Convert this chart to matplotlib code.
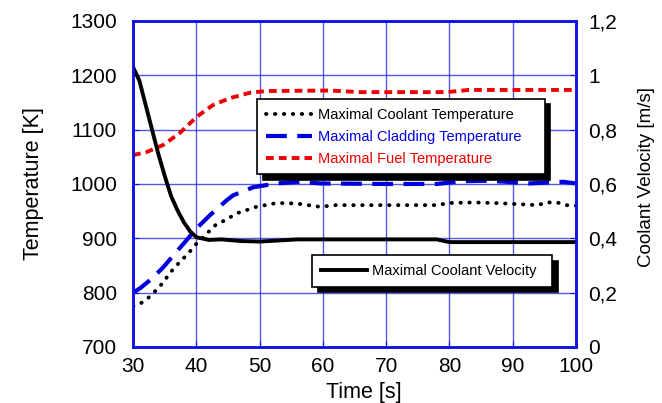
import numpy as np
import matplotlib
matplotlib.use("Agg")
import matplotlib.pyplot as plt
from matplotlib.ticker import FuncFormatter

plt.rcParams['font.family'] = ['Liberation Sans', 'DejaVu Sans']

# coolant temperature [K]
t_cool = [30, 31, 32, 33.2, 34.8, 35.8, 37.2, 38.7, 40.1, 43, 44.5, 46.4, 49.5, 52.7, 55.9, 59.5,
          62, 70, 78, 80, 84, 87, 90.6, 94, 95.3, 97, 98.5, 100]
T_cool = [775, 779, 786, 799, 819, 836, 854, 872, 891, 924, 933, 946, 958, 965, 964, 958,
          961, 961, 961, 965, 966, 965, 963, 961, 966, 966, 961, 960]

# cladding temperature [K]
t_clad = [30, 31.1, 33, 34.8, 36.4, 38.2, 40, 42.2, 44.8, 45.8, 49, 52.7, 56.4, 59.6,
          70, 78, 82, 86, 89, 92.7, 98, 100]
T_clad = [800, 808, 826, 847, 869, 893, 918, 943, 970, 979, 994, 1001, 1004, 1001,
          1000, 1000, 1005, 1006, 1004, 1001, 1004, 1001]

# fuel temperature [K]
t_fuel = [30, 32.2, 34.8, 37.4, 40.1, 42.6, 45.3, 48.5, 51, 61, 66, 79.6, 83, 100]
T_fuel = [1053, 1059, 1072, 1094, 1124, 1145, 1158, 1168, 1171, 1172, 1169, 1169, 1173, 1173]

# coolant velocity [m/s]
t_vel = [30, 31, 32, 33, 34, 35, 36, 37, 38, 39, 40, 42, 44, 47, 50, 53, 56, 70, 78, 80, 100]
v_vel = [1.03, 0.98, 0.89, 0.80, 0.71, 0.63, 0.556, 0.504, 0.46, 0.426, 0.404, 0.394, 0.396,
         0.390, 0.388, 0.392, 0.396, 0.396, 0.396, 0.386, 0.386]

blue = '#1010e0'

fig = plt.figure(figsize=(6.62, 4.03), dpi=100)
ax = fig.add_axes([0.201, 0.139, 0.669, 0.809])
ax2 = ax.twinx()

l1, = ax.plot(t_cool, T_cool, color='black', lw=2.8, linestyle=(0, (0.1, 2.2)),
              dash_capstyle='round', label='Maximal Coolant Temperature')
l2, = ax.plot(t_clad, T_clad, color='#0000dd', lw=3, linestyle=(0, (5, 2.5)),
              label='Maximal Cladding Temperature')
l3, = ax.plot(t_fuel, T_fuel, color='#ee0000', lw=2.8, linestyle=(0, (2, 1.3)),
              label='Maximal Fuel Temperature')
l4, = ax2.plot(t_vel, v_vel, color='black', lw=2.8, label='Maximal Coolant Velocity')

ax.set_xlim(30, 100)
ax.set_ylim(700, 1300)
ax2.set_ylim(0, 1.2)
ax.set_xticks(np.arange(30, 101, 10))
ax.set_yticks(np.arange(700, 1301, 100))
ax2.set_yticks(np.arange(0, 1.21, 0.2))
ax2.yaxis.set_major_formatter(FuncFormatter(lambda v, p: ('%g' % round(v, 1)).replace('.', ',')))

ax.grid(True, color=blue, lw=1, alpha=0.7)
for a in (ax, ax2):
    for s in a.spines.values():
        s.set_color(blue)
        s.set_linewidth(1.8)
    a.tick_params(direction='in', color=blue, labelsize=15, length=4)
ax.tick_params(axis='y', pad=11.5)
ax.tick_params(axis='x', pad=7)
ax2.tick_params(axis='y', pad=8.6)

ax.set_xlabel('Time [s]', fontsize=15.5)
ax.xaxis.set_label_coords(0.52, -0.108)
ax.set_ylabel('Temperature [K]', fontsize=15.5, labelpad=19)
ax2.set_ylabel('Coolant Velocity [m/s]', fontsize=13.5, labelpad=16)
ax2.yaxis.set_label_coords(1.139, 0.52)

leg1 = ax2.legend(handles=[l1, l2, l3], loc='upper left',
                  bbox_to_anchor=(0.28, 0.525, 0.65, 0.236), mode='expand',
                  borderaxespad=0, fontsize=10.5,
                  labelcolor=['black', '#0000dd', '#ee0000'],
                  fancybox=False, edgecolor='black', framealpha=1, handlelength=3.2,
                  handletextpad=0.35, borderpad=0.6, labelspacing=0.55,
                  shadow={'color': 'black', 'alpha': 1, 'ox': 4, 'oy': -4})
leg1.get_frame().set_linewidth(1.2)
ax2.add_artist(leg1)
leg2 = ax2.legend(handles=[l4], loc='upper left',
                  bbox_to_anchor=(0.404, 0.181, 0.542, 0.101), mode='expand',
                  borderaxespad=0, fontsize=10.5, fancybox=False, edgecolor='black',
                  framealpha=1, handlelength=3.2, handletextpad=0.3, borderpad=0.6,
                  shadow={'color': 'black', 'alpha': 1, 'ox': 4, 'oy': -4})
leg2.get_frame().set_linewidth(1.2)

fig.savefig('out.png', dpi=100)
